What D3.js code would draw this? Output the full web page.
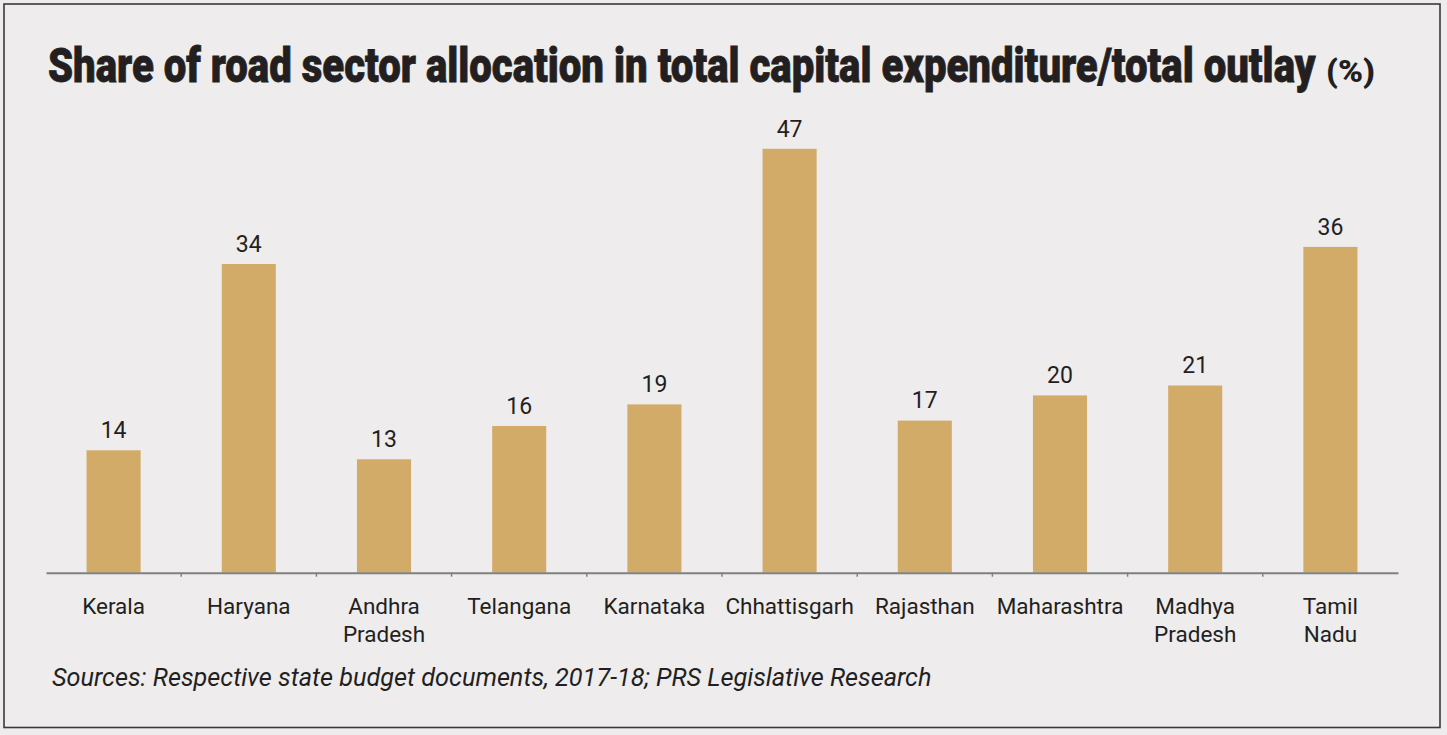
<!DOCTYPE html>
<html>
<head>
<meta charset="utf-8">
<script src="https://cdn.jsdelivr.net/npm/d3@7"></script>
<style>
  html, body { margin: 0; padding: 0; background: #eeeced; }
  svg { display: block; }
</style>
</head>
<body>
<svg class="chart" width="1447" height="735"></svg>
<script>
// chart data
const states = ['Kerala', 'Haryana', 'Andhra Pradesh', 'Telangana', 'Karnataka',
                'Chhattisgarh', 'Rajasthan', 'Maharashtra', 'Madhya Pradesh', 'Tamil Nadu'];
const shares = [13.6, 34.3, 12.6, 16.3, 18.7, 47.1, 16.9, 19.7, 20.8, 36.2];
const yDomain = [0, 50];

const titleText = 'Share of road sector allocation in total capital expenditure/total outlay';
const unitText = '(%)';
const sourceText = 'Sources: Respective state budget documents, 2017-18; PRS Legislative Research';

document.addEventListener('DOMContentLoaded', function() {
    const svg = d3.select('svg.chart');
    const ink = '#231f20';
    const face = 'Roboto, "Liberation Sans", sans-serif';

    // background + frame
    svg.append('rect')
        .attr('x', 0).attr('y', 0).attr('width', 1447).attr('height', 735)
        .attr('fill', '#eeeced');
    svg.append('rect')
        .attr('x', 4).attr('y', 4).attr('width', 1436).attr('height', 723.5)
        .attr('fill', 'none')
        .attr('stroke', '#3a3a3a')
        .attr('stroke-width', 1.6);

    // squeeze a text horizontally so it spans `w` pixels
    function squeeze(x0, y0, w, sel) {
        const natural = sel.node().getComputedTextLength();
        sel.attr('transform', `translate(${x0},${y0}) scale(${w / natural},1)`);
    }

    // title (the original is a compressed heavy grotesque)
    const title = svg.append('text')
        .attr('font-family', face)
        .attr('font-weight', 900)
        .attr('font-size', 49)
        .attr('fill', ink)
        .attr('stroke', ink)
        .attr('stroke-width', 0.8)
        .text(titleText);
    squeeze(48, 82, 1268, title);

    const unit = svg.append('text')
        .attr('font-family', face)
        .attr('font-weight', 900)
        .attr('font-size', 32)
        .attr('fill', ink)
        .text(unitText);
    squeeze(1326, 82, 49, unit);

    // scales
    const x = d3.scaleBand()
        .domain(states)
        .range([46, 1398])
        .paddingInner(0.6)
        .paddingOuter(0.3);
    const y = d3.scaleLinear()
        .domain(yDomain)
        .range([572.7, 122.7]);

    // bars
    svg.append('g')
        .selectAll('rect')
        .data(states)
        .join('rect')
        .attr('x', d => x(d))
        .attr('y', (d, i) => y(shares[i]))
        .attr('width', x.bandwidth())
        .attr('height', (d, i) => y(0) - y(shares[i]))
        .attr('fill', '#d3ab69');

    // value labels
    svg.append('g')
        .selectAll('text')
        .data(states)
        .join('text')
        .attr('x', d => x(d) + x.bandwidth() / 2)
        .attr('y', (d, i) => y(shares[i]) - 12.3)
        .attr('text-anchor', 'middle')
        .attr('font-family', face)
        .attr('font-size', 23)
        .attr('fill', ink)
        .text((d, i) => d3.format('.0f')(shares[i]));

    // x axis
    const xAxis = svg.append('g')
        .attr('transform', `translate(0,${y(0)})`)
        .call(d3.axisBottom(x).tickSize(0).tickSizeOuter(0));
    xAxis.select('.domain')
        .attr('stroke', '#808080')
        .attr('stroke-width', 2);

    // little separator ticks between the states
    const step = x.step();
    xAxis.selectAll('.sep')
        .data(states.slice(1))
        .join('line')
        .attr('class', 'sep')
        .attr('x1', d => x(d) - step * 0.3)
        .attr('x2', d => x(d) - step * 0.3)
        .attr('y1', 0)
        .attr('y2', 4)
        .attr('stroke', '#808080')
        .attr('stroke-width', 1.5);

    // category labels, two-word names wrap
    xAxis.selectAll('.tick text').each(function(d) {
        const t = d3.select(this);
        t.text(null)
            .attr('y', 0).attr('dy', null)
            .attr('font-family', face)
            .attr('font-size', 22.5)
            .attr('fill', ink);
        d.split(' ').forEach((word, i) => {
            t.append('tspan')
                .attr('x', 0)
                .attr('y', 41.6 + i * 28)
                .text(word);
        });
    });

    // source note
    const source = svg.append('text')
        .attr('font-family', face)
        .attr('font-style', 'italic')
        .attr('font-size', 26)
        .attr('fill', ink)
        .text(sourceText);
    squeeze(52, 686, 880, source);
});
</script>
</body>
</html>
